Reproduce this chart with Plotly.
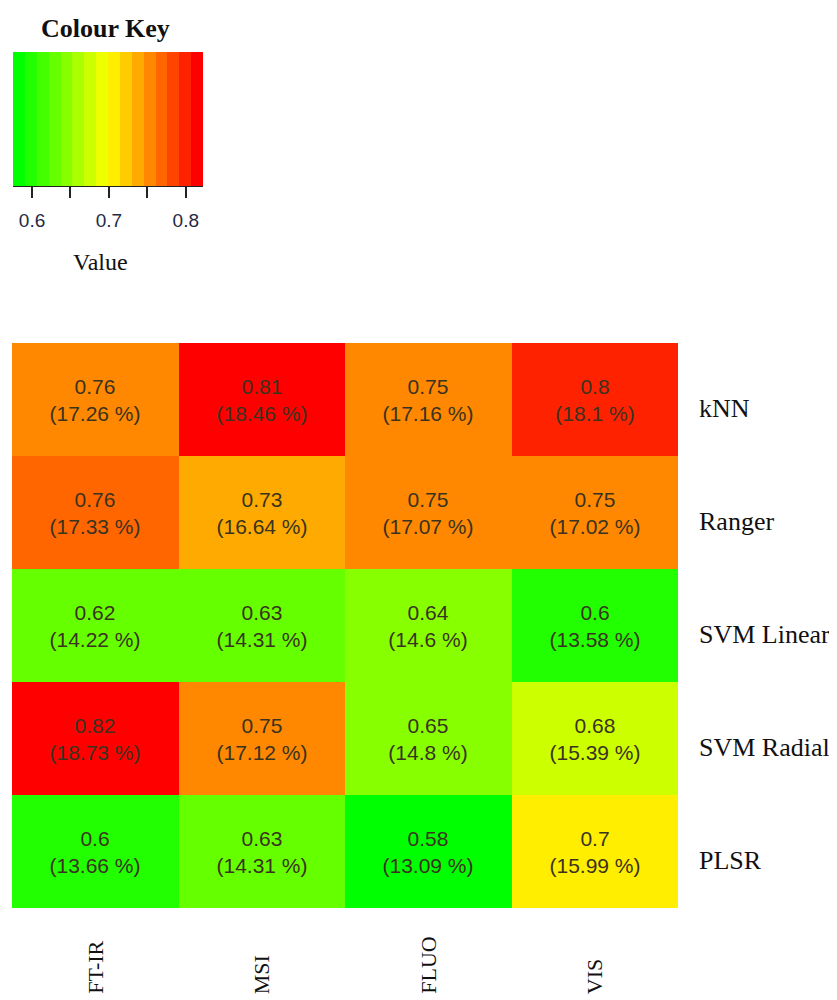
import plotly.graph_objects as go

# ---- data ----
models = ["kNN", "Ranger", "SVM Linear", "SVM Radial", "PLSR"]
techniques = ["FT-IR", "MSI", "FLUO", "VIS"]
values = [
    [0.7580, 0.8104, 0.7533, 0.7952],
    [0.7612, 0.7305, 0.7494, 0.7472],
    [0.6243, 0.6282, 0.6409, 0.5962],
    [0.8224, 0.7516, 0.6497, 0.6756],
    [0.5997, 0.6282, 0.5752, 0.7020],
]
percents = [
    [17.26, 18.46, 17.16, 18.1],
    [17.33, 16.64, 17.07, 17.02],
    [14.22, 14.31, 14.6, 13.58],
    [18.73, 17.12, 14.8, 15.39],
    [13.66, 14.31, 13.09, 15.99],
]
key_tickvals = [0.6, 0.65, 0.7, 0.75, 0.8]
key_ticktext = ["0.6", "", "0.7", "", "0.8"]

# green -> yellow -> red palette, 16 steps
palette = ["#00FF00", "#22FF00", "#44FF00", "#66FF00", "#88FF00", "#AAFF00",
           "#CCFF00", "#EEFF00", "#FFEE00", "#FFCC00", "#FFAA00", "#FF8800",
           "#FF6600", "#FF4400", "#FF2200", "#FF0000"]
n = len(palette)
colorscale = []
for i, c in enumerate(palette):
    colorscale.append([i / n, c])
    colorscale.append([(i + 1) / n, c])

flat = [v for row in values for v in row]
zmin, zmax = min(flat), max(flat)

text = [[f"{round(v, 2):g}<br>({p:g} %)" for v, p in zip(rv, rp)]
        for rv, rp in zip(values, percents)]

W, H = 837, 1000
OFF = 8  # page body margin
def px(x): return (x - OFF) / W
def py(y): return 1 - (y - OFF) / H

fig = go.Figure()
fig.add_trace(go.Heatmap(
    z=values, x=techniques, y=models, text=text,
    texttemplate="%{text}",
    textfont=dict(family="Liberation Sans, Arial", size=21, color="#3a3320"),
    colorscale=colorscale, zmin=zmin, zmax=zmax, showscale=False,
    xaxis="x", yaxis="y", hoverinfo="skip",
))

# colour key
step = (zmax - zmin) / n
centers = [zmin + step * (i + 0.5) for i in range(n)]
fig.add_trace(go.Heatmap(
    z=[centers], x=centers, y=[0], colorscale=colorscale, zmin=zmin, zmax=zmax,
    showscale=False, xaxis="x2", yaxis="y2", hoverinfo="skip",
))

serif = "Liberation Serif, Times New Roman, serif"
annotations = []
for m in models:
    annotations.append(dict(text=m, x=px(697), xref="paper", xanchor="left",
                            y=m, yref="y", yanchor="middle", yshift=-9,
                            showarrow=False, font=dict(family=serif, size=26, color="#111")))
for t in techniques:
    annotations.append(dict(text=t, x=t, xref="x", xanchor="center",
                            y=py(996), yref="paper", yanchor="bottom", textangle=-90,
                            showarrow=False, font=dict(family=serif, size=22, color="#111")))
annotations.append(dict(text="<b>Colour Key</b>", x=px(105), xref="paper", xanchor="center",
                        y=py(28), yref="paper", yanchor="middle", showarrow=False,
                        font=dict(family=serif, size=26, color="#111")))
annotations.append(dict(text="Value", x=px(100), xref="paper", xanchor="center",
                        y=py(262), yref="paper", yanchor="middle", showarrow=False,
                        font=dict(family=serif, size=24, color="#111")))

fig.update_layout(
    width=W, height=H, margin=dict(l=0, r=0, t=0, b=0),
    paper_bgcolor="white", plot_bgcolor="white",
    xaxis=dict(domain=[px(12), px(678)], showticklabels=False, ticks="",
               showgrid=False, zeroline=False, anchor="y"),
    yaxis=dict(domain=[py(908), py(343)], showticklabels=False, ticks="",
               showgrid=False, zeroline=False, autorange="reversed", anchor="x"),
    xaxis2=dict(domain=[px(13), px(203)], range=[zmin, zmax], anchor="y2",
                tickvals=key_tickvals, ticktext=key_ticktext, ticks="outside",
                ticklen=11, tickwidth=1.5, tickcolor="#222", showline=True,
                linecolor="#222", linewidth=1, showgrid=False, zeroline=False,
                ticklabelstandoff=6,
                tickfont=dict(family="Liberation Sans, Arial", size=19, color="#1f2a44")),
    yaxis2=dict(domain=[py(186), py(52)], visible=False, anchor="x2", range=[-0.5, 0.5]),
    annotations=annotations,
)

fig.write_html("out.html")
